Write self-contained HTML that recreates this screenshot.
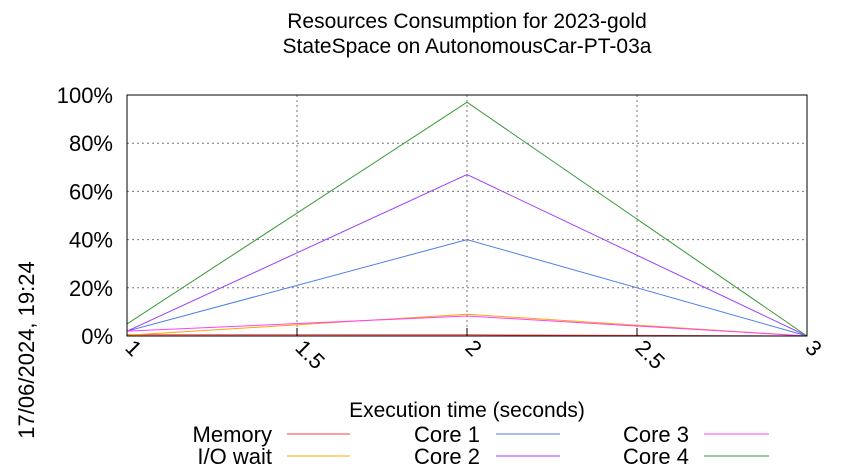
<!DOCTYPE html>
<html><head><meta charset="utf-8"><style>
body{margin:0;background:#fff}
svg{display:block;font-family:"Liberation Sans",sans-serif}
</style></head><body>
<svg id="chart" width="850" height="475">
<g id="grid"></g><g id="series"></g><g id="axes"></g><g id="legend"></g>
<text x="467" y="28" font-size="21" text-anchor="middle">Resources Consumption for 2023-gold</text>
<text x="467" y="53" font-size="21" text-anchor="middle">StateSpace on AutonomousCar-PT-03a</text>
<text x="467" y="417" font-size="21" text-anchor="middle">Execution time (seconds)</text>
<text transform="translate(34,350) rotate(-90)" font-size="22" text-anchor="middle">17/06/2024, 19:24</text>
</svg>
<script>
const times=[1,2,3];
const xTicks=[1,1.5,2,2.5,3];
const xTickLabels=["1","1.5","2","2.5","3"];
const yTicks=[0,20,40,60,80,100];
const yTickLabels=["0%","20%","40%","60%","80%","100%"];
const seriesNames=["Memory","I/O wait","Core 1","Core 2","Core 3","Core 4"];
const seriesColors=["#ff4040","#ffa500","#4c7fe6","#9b40ff","#ff40ff","#339933"];
const memory=[0.5,0.5,0];
const ioWait=[0.3,9,0];
const core1=[2,40,0];
const core2=[2,67,0];
const core3=[2,8.3,0];
const core4=[5,97,0];
const seriesValues=[memory,ioWait,core1,core2,core3,core4];
const NS="http://www.w3.org/2000/svg";
const X0=127,X1=807,Y0=336,Y1=95;
const xs=v=>X0+(v-1)/(3-1)*(X1-X0);
const ys=v=>Y0-(v/100)*(Y0-Y1);
function mk(tag,attrs,parent){const e=document.createElementNS(NS,tag);for(const k in attrs)e.setAttribute(k,attrs[k]);parent.appendChild(e);return e;}
const grid=document.getElementById('grid'),axes=document.getElementById('axes'),ser=document.getElementById('series'),leg=document.getElementById('legend');
xTicks.forEach((t,i)=>{
 const x=xs(t);
 if(i>0&&i<xTicks.length-1){const g=mk('line',{x1:x,x2:x,y1:Y1,y2:Y0,stroke:'#777','stroke-dasharray':'2,3','stroke-width':1},grid);
 
 }
 const tk=mk('line',{x1:x,x2:x,y1:Y0,y2:Y0-8,stroke:'#000'},axes);
 
 
 const tx=mk('text',{transform:`translate(${x-3},${Y0+13}) rotate(45)`,'font-size':22},axes);
 tx.textContent=xTickLabels[i];
 
 
});
yTicks.forEach((t,i)=>{
 const y=ys(t);
 if(i>0){const g=mk('line',{x1:X0,x2:X1,y1:y,y2:y,stroke:'#777','stroke-dasharray':'2,3','stroke-width':1},grid);
 
 }
 const tx=mk('text',{x:X0-14,y:y+8,'font-size':22,'text-anchor':'end'},axes);
 tx.textContent=yTickLabels[i];
 
 
});
const frame=mk('rect',{x:X0,y:Y1,width:X1-X0,height:Y0-Y1,fill:'none',stroke:'#000','stroke-width':1},axes);


seriesValues.forEach((vals,si)=>{
 const pts=vals.map((v,i)=>xs(times[i])+','+ys(v)).join(' ');
 const p=mk('polyline',{points:pts,fill:'none',stroke:seriesColors[si],'stroke-width':1},ser);
 
 
});
const legCols=[{te:272,l0:287,l1:350},{te:480,l0:496,l1:560},{te:689,l0:704,l1:769}];
const legRows=[434,456];
seriesNames.forEach((n,i)=>{
 const c=legCols[Math.floor(i/2)],y=legRows[i%2];
 const t=mk('text',{x:c.te,y:y+8,'font-size':22,'text-anchor':'end'},leg);
 t.textContent=n;
 
 
 const l=mk('line',{x1:c.l0,x2:c.l1,y1:y,y2:y,stroke:seriesColors[i],'stroke-width':1},leg);
 
 
});
</script>
</body></html>
